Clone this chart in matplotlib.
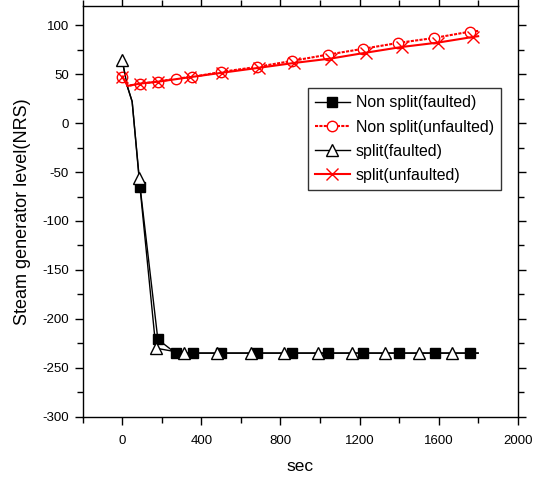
import matplotlib
matplotlib.use("Agg")
import matplotlib.pyplot as plt
from matplotlib.ticker import MultipleLocator

plt.rcParams.update({
    "font.family": ["Liberation Sans", "DejaVu Sans"],
    "font.size": 11,
    "axes.unicode_minus": False,
})

# ── Data (sec, NRS level) ─────────────────────────────────────────────────────
# Non split, faulted SG
t_ns_f = [0, 25, 50, 90, 180, 270, 360, 500, 680, 860, 1040, 1220, 1400, 1580, 1760, 1800]
v_ns_f = [64, 38, 22, -65, -221, -235, -235, -235, -235, -235, -235, -235, -235, -235, -235, -235]
mk_ns_f = [3, 4, 5, 6, 7, 8, 9, 10, 11, 12, 13, 14]

# Non split, unfaulted SG
t_ns_u = [0, 27, 90, 180, 270, 355, 500, 680, 857, 1040, 1220, 1397, 1577, 1760, 1800]
v_ns_u = [47.5, 38, 40.4, 42.3, 45.5, 47.2, 52.3, 57.4, 63.5, 70, 76, 82, 87, 93.5, 94.2]
mk_ns_u = [0, 2, 3, 4, 5, 6, 7, 8, 9, 10, 11, 12, 13]

# Split, faulted SG
t_s_f = [0, 25, 50, 85, 170, 310, 480, 650, 820, 990, 1160, 1330, 1500, 1670, 1800]
v_s_f = [64, 38, 22, -56, -230, -235, -235, -235, -235, -235, -235, -235, -235, -235, -235]
mk_s_f = [0, 3, 4, 5, 6, 7, 8, 9, 10, 11, 12, 13]

# Split, unfaulted SG
t_s_u = [0, 27, 90, 180, 345, 505, 690, 870, 1055, 1233, 1413, 1597, 1772, 1800]
v_s_u = [47.5, 38, 40.4, 42.3, 47.0, 51.5, 56.5, 61.5, 66, 72, 77.8, 82.3, 88, 88.8]
mk_s_u = [0, 2, 3, 4, 5, 6, 7, 8, 9, 10, 11, 12]

# ── Figure ────────────────────────────────────────────────────────────────────
fig = plt.figure(figsize=(5.33, 4.86), dpi=100)
ax = fig.add_axes([0.1552, 0.1426, 0.8161, 0.8457])

ax.plot(t_ns_f, v_ns_f, color="black", lw=1.0, marker="s", ms=6.5,
        mfc="black", mec="black", markevery=mk_ns_f, label="Non split(faulted)")
ax.plot(t_ns_u, v_ns_u, color="red", lw=1.5, ls=(0, (1.5, 0.6)), marker="o", ms=7.5,
        mfc="white", mec="red", mew=1.0, markevery=mk_ns_u, label="Non split(unfaulted)")
ax.plot(t_s_f, v_s_f, color="black", lw=1.0, marker="^", ms=8,
        mfc="white", mec="black", mew=1.0, markevery=mk_s_f, label="split(faulted)")
ax.plot(t_s_u, v_s_u, color="red", lw=1.5, marker="x", ms=8, mew=1.0,
        mec="red", markevery=mk_s_u, label="split(unfaulted)")

ax.set_xlim(-200, 2000)
ax.set_ylim(-300, 120)
ax.xaxis.set_minor_locator(MultipleLocator(200))
ax.yaxis.set_minor_locator(MultipleLocator(25))
ax.set_xticks([0, 400, 800, 1200, 1600, 2000])
ax.set_yticks(range(-300, 101, 50))
ax.tick_params(which="both", direction="out", top=True, right=True,
               labelsize=9.5, width=1.0, pad=4)
ax.tick_params(which="major", length=6)
ax.tick_params(which="minor", length=4)
ax.tick_params(axis="x", pad=7)
for sp in ax.spines.values():
    sp.set_linewidth(1.0)

ax.set_xlabel("sec", fontsize=12.5, labelpad=9)
ax.set_ylabel("Steam generator level(NRS)", fontsize=13, labelpad=8)

leg = ax.legend(loc="upper left", bbox_to_anchor=(0.517, 0.799), fontsize=11.4,
                frameon=True, fancybox=False, handlelength=2.2, handletextpad=0.38,
                borderpad=0.45, labelspacing=0.58, borderaxespad=0)
leg.get_frame().set_edgecolor("black")
leg.get_frame().set_linewidth(1.0)

fig.savefig("out.png", dpi=100)
